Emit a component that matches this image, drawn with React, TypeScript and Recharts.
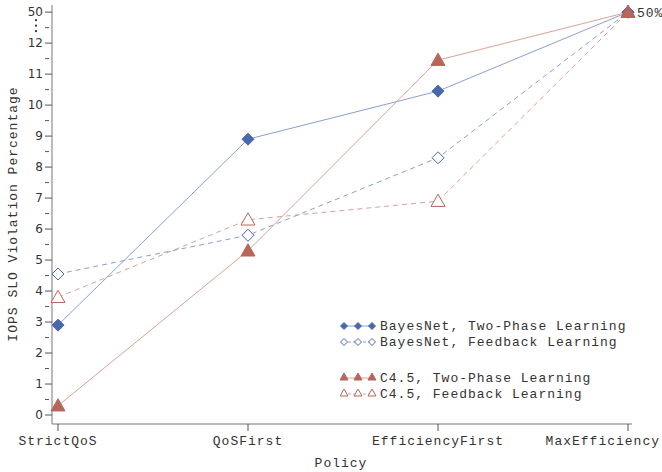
import { LineChart, Line, XAxis, YAxis } from 'recharts'

const policies = ['StrictQoS', 'QoSFirst', 'EfficiencyFirst', 'MaxEfficiency']
const bayesTwoPhase = [2.9, 8.9, 10.45, 50]
const bayesFeedback = [4.55, 5.8, 8.3, 50]
const c45TwoPhase = [0.3, 5.3, 11.45, 50]
const c45Feedback = [3.8, 6.3, 6.9, 50]
const yTicks = [0, 0.5, 1, 1.5, 2, 2.5, 3, 3.5, 4, 4.5, 5, 5.5, 6, 6.5, 7, 7.5, 8, 8.5, 9, 9.5, 10, 10.5, 11, 11.5, 12, 12.5, 13]

// values above the axis break (12) are drawn at 13, which is labelled 50
const brk = (v: number) => (v > 12 ? 13 : v)

const data = policies.map((p, i) => ({
  policy: p,
  bt: brk(bayesTwoPhase[i]),
  bf: brk(bayesFeedback[i]),
  ct: brk(c45TwoPhase[i]),
  cf: brk(c45Feedback[i]),
}))

const BLUE = '#4a68ab'
const BLUE_LINE = '#8b9fd2'
const RED = '#b8655a'
const RED_LINE = '#d9a199'
const MONO = '"Liberation Mono", "Courier New", monospace'

const Diamond = ({ cx, cy, color, filled, r = 6 }: any) => {
  if (cx == null || cy == null) return null
  return (
    <path
      d={`M${cx},${cy - r}L${cx + r},${cy}L${cx},${cy + r}L${cx - r},${cy}Z`}
      fill={filled ? color : '#fff'}
      stroke={color}
      strokeWidth={1}
    />
  )
}

const Triangle = ({ cx, cy, color, filled, r = 7 }: any) => {
  if (cx == null || cy == null) return null
  return (
    <path
      d={`M${cx},${cy - r}L${cx + r},${cy + r * 0.75}L${cx - r},${cy + r * 0.75}Z`}
      fill={filled ? color : '#fff'}
      stroke={color}
      strokeWidth={1}
    />
  )
}

const YTick = ({ x, y, payload }: any) => {
  const v = payload.value
  const major = Number.isInteger(v)
  return (
    <g>
      <line x1={x + 1} x2={x + (major ? 8 : 5)} y1={y} y2={y} stroke="#555" />
      {major && (
        <text x={x - 1} y={y} dy={4} textAnchor="end" fontSize={12} fill="#333" fontFamily='"DejaVu Sans", sans-serif'>
          {v === 13 ? '50' : v}
        </text>
      )}
      {v === 13 && [8, 13.5, 19].map((d) => <circle key={d} cx={x - 8} cy={y + d} r={1.1} fill="#333" />)}
    </g>
  )
}

// the last category label is pushed left so it stays inside the right edge
const XTick = ({ x, y, payload, index }: any) => {
  const last = index === policies.length - 1
  return (
    <text
      x={last ? x + 32 : x}
      y={y}
      dy={12}
      textAnchor={last ? 'end' : 'middle'}
      fontFamily={MONO}
      fontSize={13}
      letterSpacing={1}
      fill="#333"
    >
      {payload.value}
    </text>
  )
}

const legendRows = [
  { label: 'BayesNet, Two-Phase Learning', color: BLUE, line: BLUE_LINE, shape: 'd', filled: true, dash: false },
  { label: 'BayesNet, Feedback Learning', color: BLUE, line: BLUE_LINE, shape: 'd', filled: false, dash: true },
  null,
  { label: 'C4.5, Two-Phase Learning', color: RED, line: RED_LINE, shape: 't', filled: true, dash: false },
  { label: 'C4.5, Feedback Learning', color: RED, line: RED_LINE, shape: 't', filled: false, dash: true },
]

const LegendBox = () => (
  <div style={{ position: 'absolute', left: 340, top: 318, fontFamily: MONO, fontSize: 13, letterSpacing: 1, color: '#333' }}>
    {legendRows.map((row, i) =>
      row ? (
        <div key={i} style={{ display: 'flex', alignItems: 'center', height: 16 }}>
          <svg width={38} height={14}>
            <line x1={3} x2={33} y1={7} y2={7} stroke={row.line} strokeDasharray={row.dash ? '3 2' : undefined} />
            {[4, 18, 32].map((cx) =>
              row.shape === 'd' ? (
                <Diamond key={cx} cx={cx} cy={7} r={3.5} color={row.color} filled={row.filled} />
              ) : (
                <Triangle key={cx} cx={cx} cy={6} r={4} color={row.color} filled={row.filled} />
              )
            )}
          </svg>
          <span style={{ marginLeft: 2, whiteSpace: 'pre' }}>{row.label}</span>
        </div>
      ) : (
        <div key={i} style={{ height: 20 }} />
      )
    )}
  </div>
)

const endLabel = ({ x, y, index }: any) =>
  index === policies.length - 1 ? (
    <text x={x + 9} y={y} dy={5} fontFamily={MONO} fontSize={13} letterSpacing={1} fill="#333">
      50%
    </text>
  ) : null

export default function App() {
  return (
    <div style={{ position: 'fixed', left: 0, top: 0, width: 662, height: 472, background: '#fff' }}>
      <LineChart width={662} height={472} data={data} margin={{ top: 5, right: 30, left: 0, bottom: 0 }}>
        <XAxis
          dataKey="policy"
          height={48}
          padding={{ left: 6, right: 4 }}
          stroke="#777"
          tickSize={7}
          tick={<XTick />}
          tickLine={{ stroke: '#555' }}
          interval={0}
          label={() => (
            <text x={341} y={467} textAnchor="middle" fontFamily={MONO} fontSize={13} letterSpacing={1} fill="#333">
              Policy
            </text>
          )}
        />
        <XAxis xAxisId="top" orientation="top" dataKey="policy" height={0} tick={false} tickLine={false} stroke="#777" />
        <YAxis
          width={52}
          domain={[-0.29, 13.23]}
          ticks={yTicks}
          interval={0}
          type="number"
          allowDataOverflow
          stroke="#777"
          tickLine={false}
          tick={<YTick />}
          label={() => (
            <text
              x={17}
              y={214}
              transform="rotate(-90 17 214)"
              textAnchor="middle"
              fontFamily={MONO}
              fontSize={13}
              letterSpacing={1}
              fill="#333"
            >
              IOPS SLO Violation Percentage
            </text>
          )}
        />
        <YAxis yAxisId="right" orientation="right" width={0} tick={false} tickLine={false} stroke="#777" />
        <Line
          dataKey="bf"
          stroke={BLUE_LINE}
          strokeDasharray="5 4"
          isAnimationActive={false}
          dot={(p: any) => <Diamond key={p.index} cx={p.cx} cy={p.cy} color={BLUE} filled={false} r={6} />}
        />
        <Line
          dataKey="cf"
          stroke={RED_LINE}
          strokeDasharray="5 4"
          isAnimationActive={false}
          dot={(p: any) => <Triangle key={p.index} cx={p.cx} cy={p.cy} color={RED} filled={false} r={7} />}
        />
        <Line
          dataKey="bt"
          stroke={BLUE_LINE}
          isAnimationActive={false}
          dot={(p: any) => <Diamond key={p.index} cx={p.cx} cy={p.cy} color={BLUE} filled r={6} />}
        />
        <Line
          dataKey="ct"
          stroke={RED_LINE}
          isAnimationActive={false}
          dot={(p: any) => <Triangle key={p.index} cx={p.cx} cy={p.cy} color={RED} filled r={7} />}
          label={endLabel}
        />
      </LineChart>
      <LegendBox />
    </div>
  )
}
